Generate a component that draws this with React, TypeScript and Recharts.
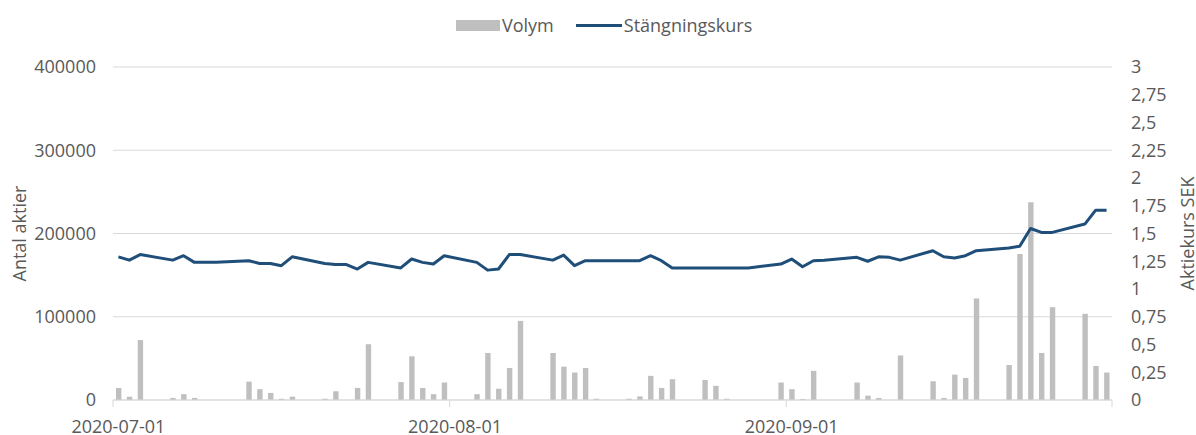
import {
    ComposedChart,
    Bar,
    Line,
    XAxis,
    YAxis,
    CartesianGrid,
} from "recharts";

// ────────────────────────────────────────────────────────────────────────────────
// Data (trading days, Jul–Sep 2020)
// ────────────────────────────────────────────────────────────────────────────────

const dates = [
    "2020-07-01", "2020-07-02", "2020-07-03", "2020-07-06", "2020-07-07", "2020-07-08",
    "2020-07-09", "2020-07-10", "2020-07-13", "2020-07-14", "2020-07-15", "2020-07-16",
    "2020-07-17", "2020-07-20", "2020-07-21", "2020-07-22", "2020-07-23", "2020-07-24",
    "2020-07-27", "2020-07-28", "2020-07-29", "2020-07-30", "2020-07-31",
    "2020-08-03", "2020-08-04", "2020-08-05", "2020-08-06", "2020-08-07", "2020-08-10",
    "2020-08-11", "2020-08-12", "2020-08-13", "2020-08-14", "2020-08-17", "2020-08-18",
    "2020-08-19", "2020-08-20", "2020-08-21", "2020-08-24", "2020-08-25", "2020-08-26",
    "2020-08-27", "2020-08-28", "2020-08-31",
    "2020-09-01", "2020-09-02", "2020-09-03", "2020-09-04", "2020-09-07", "2020-09-08",
    "2020-09-09", "2020-09-10", "2020-09-11", "2020-09-14", "2020-09-15", "2020-09-16",
    "2020-09-17", "2020-09-18", "2020-09-21", "2020-09-22", "2020-09-23", "2020-09-24",
    "2020-09-25", "2020-09-28", "2020-09-29", "2020-09-30",
];

const volym = [
    14500, 4000, 72000, 2500, 7000, 2500,
    0, 0, 22000, 13000, 8500, 1500,
    4000, 1500, 10500, 0, 14500, 67000,
    21500, 52500, 14500, 7000, 21000,
    7000, 56500, 13500, 38500, 95000, 56500,
    40000, 33000, 38500, 1500, 1500, 4300,
    29000, 14500, 25000, 24000, 17000, 1500,
    0, 0, 21000,
    13000, 1200, 35000, 0, 21000, 5200,
    2400, 0, 53500, 22500, 2400, 30500,
    26500, 122000, 42000, 175500, 237500, 56500,
    111500, 103500, 41000, 33000,
];

const stangningskurs = [
    1.29, 1.26, 1.31, 1.26, 1.3, 1.24,
    1.24, 1.24, 1.255, 1.23, 1.23, 1.21,
    1.29, 1.23, 1.22, 1.22, 1.18, 1.24,
    1.19, 1.27, 1.24, 1.225, 1.3,
    1.24, 1.17, 1.18, 1.31, 1.31, 1.26,
    1.305, 1.21, 1.255, 1.255, 1.255, 1.255,
    1.3, 1.255, 1.19, 1.19, 1.19, 1.19,
    1.19, 1.19, 1.225,
    1.27, 1.2, 1.255, 1.26, 1.285, 1.25,
    1.29, 1.285, 1.26, 1.345, 1.29, 1.28,
    1.3, 1.345, 1.37, 1.385, 1.545, 1.51,
    1.51, 1.585, 1.71, 1.71,
];

// month boundaries on the date axis (last one only closes the axis)
const monthStarts = ["2020-07-01", "2020-08-01", "2020-09-01", "2020-10-01"];

const volumeTicks = [0, 100000, 200000, 300000, 400000];
const priceTicks = [0, 0.25, 0.5, 0.75, 1, 1.25, 1.5, 1.75, 2, 2.25, 2.5, 2.75, 3];

// ────────────────────────────────────────────────────────────────────────────────
// Helpers
// ────────────────────────────────────────────────────────────────────────────────

const DAY = 86400000;
const START = Date.parse(monthStarts[0]);
const dayIndex = (d: string) => Math.round((Date.parse(d) - START) / DAY);

const chartData = dates.map((d, i) => ({
    day: dayIndex(d),
    volym: volym[i],
    kurs: stangningskurs[i],
}));

// axis edges sit half a day before each month start
const edgeTicks = monthStarts.map((d) => dayIndex(d) - 0.5);
const X_MIN = edgeTicks[0];
const X_MAX = edgeTicks[edgeTicks.length - 1];

const W = 1196;
const H = 435;
const LEFT_W = 113;
const RIGHT_W = 84;
const PLOT_W = W - LEFT_W - RIGHT_W;
const HALF_SLOT = PLOT_W / (X_MAX - X_MIN) / 2;

const TEXT = "#595959";
const GRID = "#d9d9d9";
const BAR = "#bfbfbf";
const LINE = "#1f4e79";
const FONT = "'Open Sans', sans-serif";

if (typeof document !== "undefined") document.body.style.margin = "0";

function DateTick(props: any) {
    const { x, y, index } = props;
    const label = index < monthStarts.length - 1 ? monthStarts[index] : "";
    return (
        <g>
            <line x1={x} x2={x} y1={y} y2={y + 7} stroke={GRID} />
            {label && (
                <text
                    x={x + HALF_SLOT}
                    y={y + 33}
                    textAnchor="middle"
                    fill={TEXT}
                    fontSize={18}
                    fontFamily={FONT}
                >
                    {label}
                </text>
            )}
        </g>
    );
}

// ────────────────────────────────────────────────────────────────────────────────
// Component
// ────────────────────────────────────────────────────────────────────────────────

export default function App() {
    return (
        <div style={{ position: "relative", width: W, height: H, fontFamily: FONT }}>
            {/* Legend */}
            <div
                style={{
                    position: "absolute",
                    left: 456,
                    top: 12,
                    display: "flex",
                    alignItems: "center",
                    height: 26,
                    fontSize: 18,
                    color: TEXT,
                    whiteSpace: "nowrap",
                }}
            >
                <span style={{ width: 44, height: 11, background: BAR, marginRight: 2 }} />
                <span>Volym</span>
                <span style={{ width: 46, height: 3, background: LINE, marginLeft: 22, marginRight: 2 }} />
                <span>Stängningskurs</span>
            </div>
            <ComposedChart
                width={W}
                height={H}
                data={chartData}
                margin={{ top: 67, right: 0, bottom: 0, left: 0 }}
                style={{ fontFamily: FONT }}
            >
                <CartesianGrid yAxisId="left" vertical={false} stroke={GRID} />
                <XAxis
                    dataKey="day"
                    type="number"
                    domain={[X_MIN, X_MAX]}
                    ticks={edgeTicks}
                    interval={0}
                    height={35}
                    axisLine={{ stroke: GRID }}
                    tickLine={false}
                    tickSize={0}
                    tickMargin={0}
                    tick={<DateTick />}
                />
                <YAxis
                    yAxisId="left"
                    width={LEFT_W}
                    domain={[0, 400000]}
                    ticks={volumeTicks}
                    axisLine={false}
                    tickLine={false}
                    tickSize={0}
                    tickMargin={17}
                    tick={{ fill: TEXT, fontSize: 18 }}
                    label={{
                        value: "Antal aktier",
                        angle: -90,
                        position: "insideLeft",
                        offset: 20,
                        textAnchor: "middle",
                        fill: TEXT,
                        fontSize: 18,
                    }}
                />
                <YAxis
                    yAxisId="right"
                    orientation="right"
                    width={RIGHT_W}
                    domain={[0, 3]}
                    ticks={priceTicks}
                    interval={0}
                    axisLine={false}
                    tickLine={false}
                    tickSize={0}
                    tickMargin={19}
                    tickFormatter={(v: number) => String(v).replace(".", ",")}
                    tick={{ fill: TEXT, fontSize: 18 }}
                    label={{
                        value: "Aktiekurs SEK",
                        angle: -90,
                        position: "insideRight",
                        offset: 8,
                        textAnchor: "middle",
                        fill: TEXT,
                        fontSize: 18,
                    }}
                />
                <Bar
                    yAxisId="left"
                    dataKey="volym"
                    fill={BAR}
                    barSize={5.4}
                    isAnimationActive={false}
                />
                <Line
                    yAxisId="right"
                    dataKey="kurs"
                    stroke={LINE}
                    strokeWidth={3}
                    strokeLinejoin="round"
                    dot={false}
                    activeDot={false}
                    isAnimationActive={false}
                />
            </ComposedChart>
        </div>
    );
}
